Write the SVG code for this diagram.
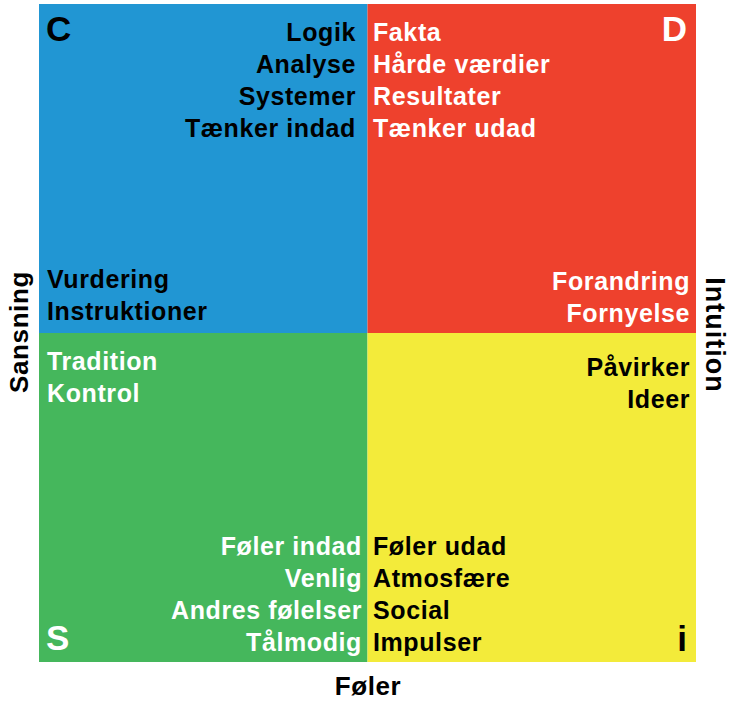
<svg xmlns="http://www.w3.org/2000/svg" width="735" height="701" viewBox="0 0 735 701">
<style>
text{font-family:"Liberation Sans",Arial,Helvetica,sans-serif;font-weight:bold}
.t{font-size:25px;letter-spacing:0.6px}
.big{font-size:35px}
.ax{font-size:26px;letter-spacing:0.6px;fill:#000}
.w{fill:#fff}
.k{fill:#000}
.e{text-anchor:end}
</style>
<rect width="735" height="701" fill="#fff"/>
<g id="quadrant-C">
<rect x="39" y="4" width="328.5" height="329" fill="#2196D3"/>
<text class="big k" x="46" y="41">C</text>
<g class="t k e">
<text x="356" y="41">Logik</text>
<text x="356" y="73">Analyse</text>
<text x="356" y="105">Systemer</text>
<text x="356" y="137">Tænker indad</text>
</g>
<g class="t k">
<text x="47" y="288">Vurdering</text>
<text x="47" y="320">Instruktioner</text>
</g>
</g>
<g id="quadrant-D">
<rect x="367.5" y="4" width="328.5" height="329" fill="#EE412D"/>
<text class="big w e" x="687" y="41">D</text>
<g class="t w">
<text x="373" y="41">Fakta</text>
<text x="373" y="73">Hårde værdier</text>
<text x="373" y="105">Resultater</text>
<text x="373" y="137">Tænker udad</text>
</g>
<g class="t w e">
<text x="690" y="290">Forandring</text>
<text x="690" y="322">Fornyelse</text>
</g>
</g>
<g id="quadrant-S">
<rect x="39" y="333" width="328.5" height="329" fill="#45B75C"/>
<text class="big w" x="46" y="650">S</text>
<g class="t w">
<text x="47" y="370">Tradition</text>
<text x="47" y="402">Kontrol</text>
</g>
<g class="t w e">
<text x="362" y="555">Føler indad</text>
<text x="362" y="587">Venlig</text>
<text x="362" y="619">Andres følelser</text>
<text x="362" y="651">Tålmodig</text>
</g>
</g>
<g id="quadrant-i">
<rect x="367.5" y="333" width="328.5" height="329" fill="#F3EB3A"/>
<text class="big k e" x="687" y="651">i</text>
<g class="t k e">
<text x="690" y="376">Påvirker</text>
<text x="690" y="408">Ideer</text>
</g>
<g class="t k">
<text x="373" y="555">Føler udad</text>
<text x="373" y="587">Atmosfære</text>
<text x="373" y="619">Social</text>
<text x="373" y="651">Impulser</text>
</g>
</g>
<g id="axis-sansning">
<text class="ax" text-anchor="middle" transform="translate(28 332) rotate(-90)">Sansning</text>
</g>
<g id="axis-intuition">
<text class="ax" text-anchor="middle" style="font-size:27px;letter-spacing:1px" transform="translate(706 335) rotate(90)">Intuition</text>
</g>
<g id="axis-foler">
<text class="ax" text-anchor="middle" x="368" y="695">Føler</text>
</g>
</svg>
